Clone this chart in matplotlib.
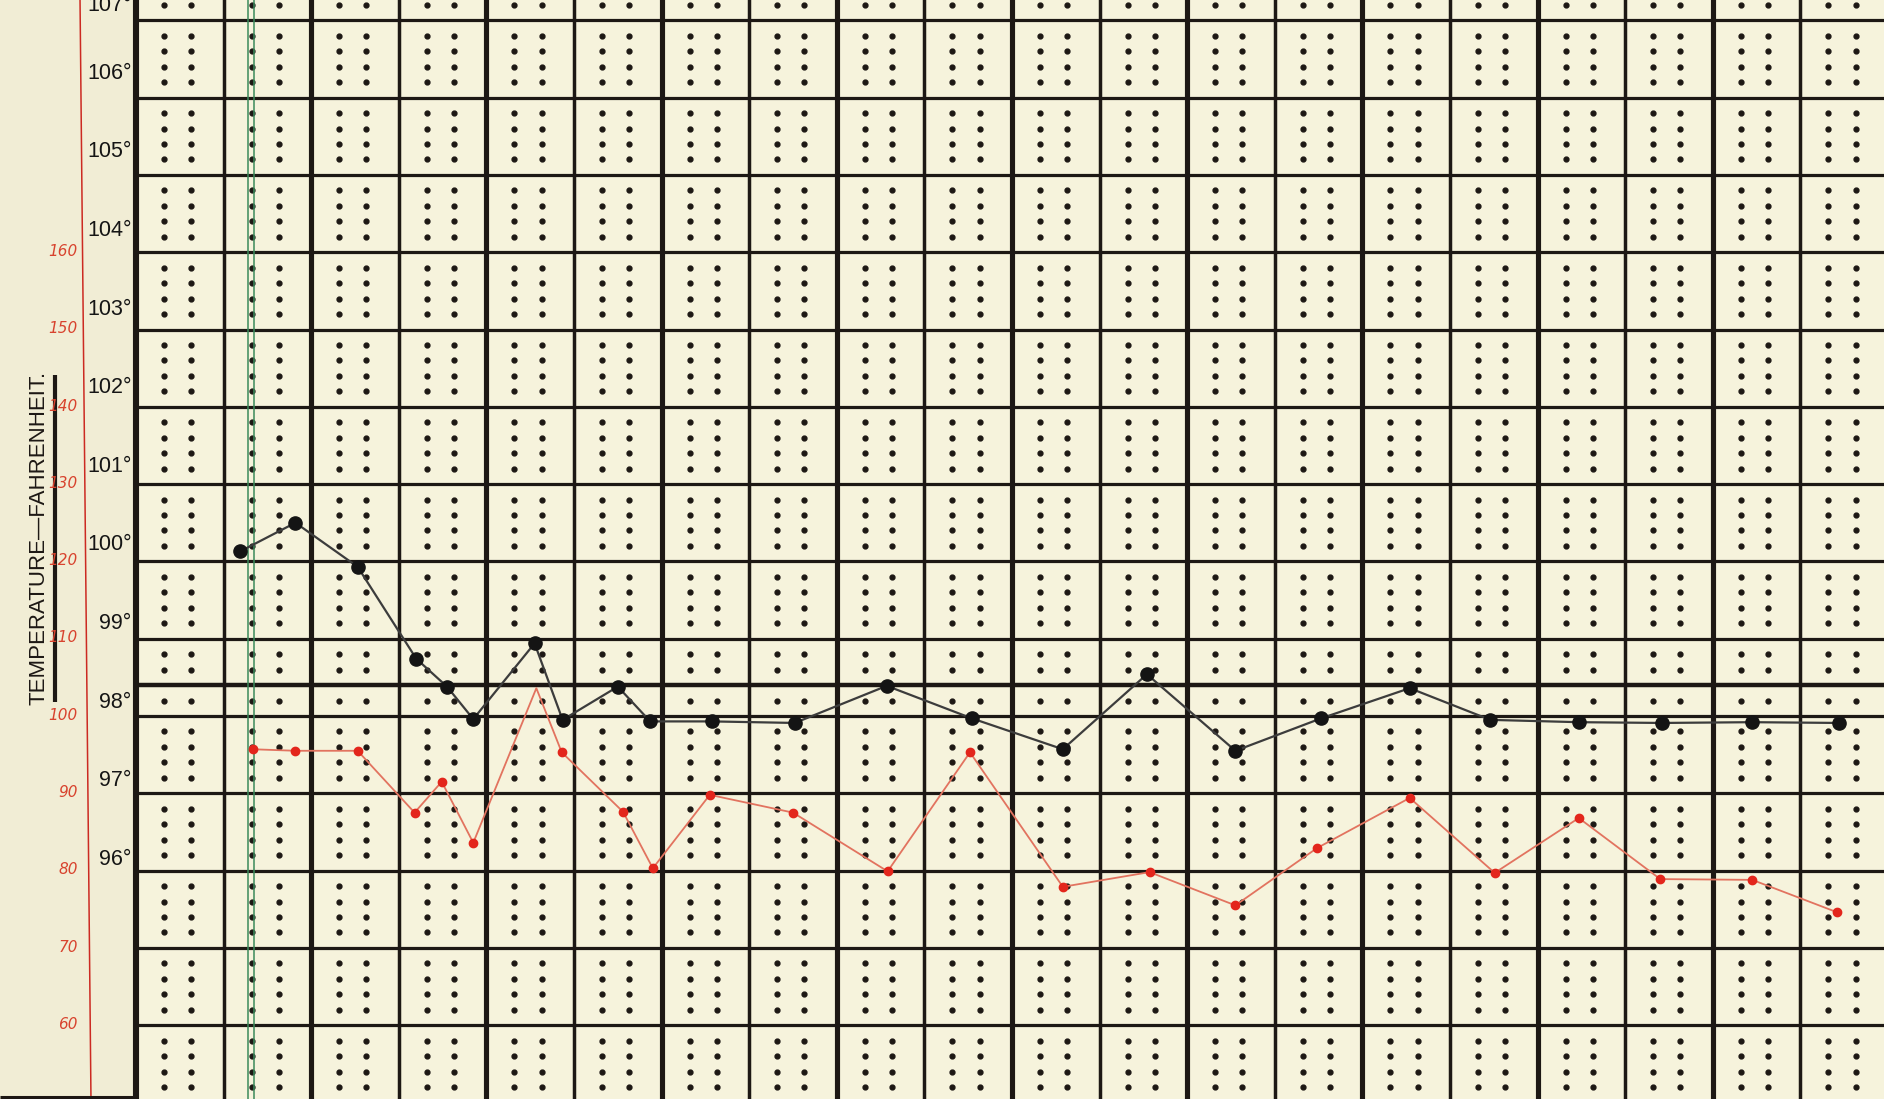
import numpy as np
import matplotlib
matplotlib.use("Agg")
import matplotlib.pyplot as plt

# ---------------- data ----------------
# x is measured in half-day columns from the left heavy rule
temp_x = [1.19, 1.82, 2.53, 3.20, 3.55, 3.85, 4.55, 4.87, 5.50, 5.87, 6.58, 7.52,
          8.57, 9.54, 10.58, 11.54, 12.55, 13.53, 14.54, 15.46, 16.47, 17.42, 18.45, 19.44]
temp_f = [100.13, 100.5, 99.93, 98.74, 98.38, 97.96, 98.94, 97.95, 98.38, 97.93, 97.93, 97.91,
          98.39, 97.97, 97.57, 98.54, 97.55, 97.97, 98.36, 97.95, 97.92, 97.91, 97.92, 97.91]

pulse_x = [1.33, 1.82, 2.53, 3.18, 3.49, 3.85, 4.57, 4.86, 5.56, 5.90, 6.55, 7.50,
           8.58, 9.52, 10.58, 11.57, 12.55, 13.48, 14.54, 15.51, 16.47, 17.40, 18.45, 19.42]
pulse_bpm = [95.7, 95.5, 95.5, 87.5, 91.5, 83.6, 103.6, 95.3, 87.6, 80.3, 89.8, 87.5,
             79.9, 95.3, 77.9, 79.8, 75.5, 82.9, 89.4, 79.7, 86.8, 78.9, 78.8, 74.6]
pulse_unmarked = [6]          # the peak drawn without a dot

temp_ticks = [107, 106, 105, 104, 103, 102, 101, 100, 99, 98, 97, 96]
pulse_ticks = [160, 150, 140, 130, 120, 110, 100, 90, 80, 70, 60]
normal_temp = 98.4
title = "TEMPERATURE\u2014FAHRENHEIT."

# ---------------- style ----------------
PAPER = "#f1edd5"
CELL = "#f6f3dc"
INK = "#1d1814"
RED = "#e3261c"
RED_LINE = "#e2735f"
GREEN = "#3b8a5a"
SANS = ["Liberation Sans", "DejaVu Sans"]

T_LO, T_HI = 93.045, 107.263
X_LO, X_HI = -1.5525, 19.954
N_COLS = 20


def label_lift(t):
    # printed labels sit a little higher on the upper rules
    return 0.05 if t >= 107 else 0.01 + 0.017 * (t - 96)


fig = plt.figure(figsize=(18.84, 10.99), dpi=100, facecolor=PAPER)
ax = fig.add_axes([0, 0, 1, 1])
ax.set_xlim(X_LO, X_HI)
ax.set_ylim(T_LO, T_HI)
ax.set_facecolor(PAPER)
ax.axis("off")

ax2 = ax.twinx()
ax2.set_position([0, 0, 1, 1])
ax2.set_ylim(100 + (T_LO - 98) * 10, 100 + (T_HI - 98) * 10)
ax2.axis("off")

# chart paper
ax.axvspan(0, N_COLS + 1, color=CELL, lw=0, zorder=0)

# printed dots: two columns per half-day, rows every 0.2 degree
cols = np.arange(N_COLS)
dot_x = np.concatenate([cols + 0.32, cols + 0.63])
rows = np.round(np.arange(93.2, 107.3, 0.2), 1)
rows = rows[(np.abs(rows - np.round(rows)) > 0.05) & (np.abs(rows - normal_temp) > 0.05)]
DX, DY = np.meshgrid(dot_x, rows)
ax.plot(DX.ravel(), DY.ravel(), "o", ms=3.5, color=INK, ls="none", zorder=1)

# horizontal degree rules
for t in range(93, 108):
    ax.plot([0, N_COLS + 1], [t, t], color=INK, lw=2.3, zorder=2, solid_capstyle="butt")
ax.plot([0, N_COLS + 1], [normal_temp, normal_temp], color=INK, lw=3.2, zorder=2,
        solid_capstyle="butt")

# vertical rules: heavy between days, thin between morning/evening
for k in range(N_COLS + 1):
    if k == 0:
        lw = 4.4
    elif k % 2 == 0:
        lw = 3.7
    else:
        lw = 2.5
    ax.axvline(k, color=INK, lw=lw, zorder=2)

# green double line
for gx in (1.28, 1.35):
    ax.axvline(gx, color=GREEN, lw=1.1, zorder=3)

# red pulse scale rule (slightly slanted in the print)
ax.plot([-0.639, -0.514], [T_HI, T_LO], color="#cc2a22", lw=1.1, zorder=3)
# bottom rule in the margin
ax.plot([X_LO, 0], [93.075, 93.075], color=INK, lw=2.2, zorder=3, solid_capstyle="butt")

# temperature labels (sit just above their rule)
for t in temp_ticks:
    ax.text(-0.05, t + label_lift(t), f"{t}\u00b0", ha="right", va="bottom",
            fontsize=15.5, family=SANS, color="#151515", zorder=6)

# pulse labels
for p in pulse_ticks:
    ax2.text(-0.665, p + 0.1, str(p), ha="right", va="center", fontsize=11,
             style="italic", family=["DejaVu Sans"], color="#d8432e", zorder=6)

# title
ax.text(-1.113, 100.30, title, rotation=90, ha="center", va="center", fontsize=16,
        family=SANS, color=INK, zorder=6)
ax.plot([-0.925, -0.925], [98.18, 102.41], color=INK, lw=3.0, zorder=6,
        solid_capstyle="butt")

# pulse trace
ax2.plot(pulse_x, pulse_bpm, "-", color=RED_LINE, lw=1.3, zorder=4)
marked = [i for i in range(len(pulse_x)) if i not in pulse_unmarked]
ax2.plot(pulse_x, pulse_bpm, "o", color=RED, ms=6, ls="none", markevery=marked, zorder=5)

# temperature trace
ax.plot(temp_x, temp_f, "-", color="#3c3c3c", lw=1.6, zorder=4)
ax.plot(temp_x, temp_f, "o", color="#141414", ms=9.5, ls="none", zorder=5)

fig.savefig("out.png", dpi=100, facecolor=PAPER)
